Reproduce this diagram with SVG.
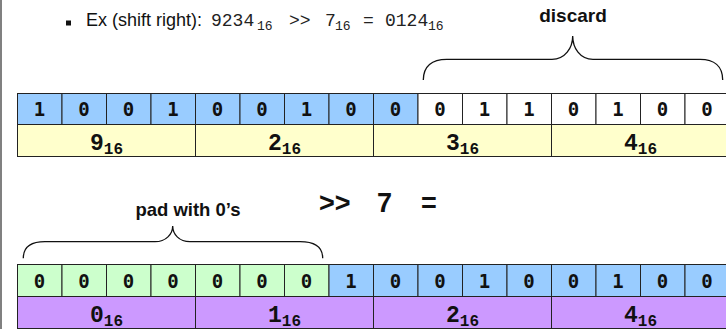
<svg xmlns="http://www.w3.org/2000/svg" width="726" height="329" viewBox="0 0 726 329">
  <style>
    .cell { stroke: #222; stroke-width: 1; }
    .blue { fill: #99CCFF; }
    .white { fill: #FFFFFF; }
    .green { fill: #CCFFCC; }
    .yellow { fill: #FFFFCC; }
    .purple { fill: #CC99FF; }
    .bit { font-family: "DejaVu Sans Mono", "Liberation Mono", monospace; font-weight: bold; font-size: 19px; fill: #111; text-anchor: middle; }
    .hex { font-family: "Liberation Mono", "Courier New", monospace; font-weight: bold; font-size: 23px; fill: #111; text-anchor: middle; }
    .sub { font-size: 16px; }
    .label { font-family: "Liberation Sans", Arial, sans-serif; font-weight: bold; fill: #111; }
    .brace { fill: none; stroke: #111; stroke-width: 1.3; }
    .cap { font-family: "Liberation Sans", Arial, sans-serif; font-size: 18px; fill: #111; }
    .mono { font-family: "Liberation Mono", "Courier New", monospace; font-size: 18px; fill: #222; }
    .msub { font-family: "Liberation Mono", "Courier New", monospace; font-size: 13px; fill: #222; }
  </style>

  <!-- page edge -->
  <rect x="0" y="0" width="2" height="329" fill="#808080"/>

  <!-- caption line -->
  <g id="caption">
    <rect x="66" y="20.5" width="5" height="5" fill="#111"/>
    <text class="cap" x="86" y="26">Ex (shift right):</text>
    <text class="mono" x="211" y="26">9234</text>
    <text class="msub" x="257" y="30">16</text>
    <text class="mono" x="289" y="26">&gt;&gt;</text>
    <text class="mono" x="325" y="26">7</text>
    <text class="msub" x="335" y="30">16</text>
    <text class="mono" x="363" y="26">=</text>
    <text class="mono" x="385" y="26">0124</text>
    <text class="msub" x="428" y="30">16</text>
  </g>

  <g id="discard-label">
    <text class="label" x="573" y="22" font-size="19" text-anchor="middle">discard</text>
  </g>

  <g id="shift-label">
    <text class="label" x="319" y="212" font-size="27">&gt;&gt;</text>
    <text class="label" x="377" y="212" font-size="27">7</text>
    <text class="label" x="421" y="212" font-size="27">=</text>
  </g>

  <g id="pad-label">
    <text class="label" x="188" y="216" font-size="18.5" text-anchor="middle">pad with 0’s</text>
  </g>

  <!-- braces -->
  <g id="connectors">
    <path class="brace" d="M423.3,80 C423.3,66 432,59.3 446.7,59.3 L552,59.3 C565,59.3 572.7,48 572.7,36 C572.7,48 580,59.3 593,59.3 L700,59.3 C714,59.3 722.7,66 722.7,80"/>
    <path class="brace" d="M23.3,258.3 C23.3,247 31,241.7 45,241.7 L155,241.7 C166,241.7 172.7,234 172.7,226 C172.7,234 179,241.7 190,241.7 L300,241.7 C314,241.7 322.7,247 322.7,258.3"/>
  </g>

  <!-- original value: bits -->
  <g id="top-bits">
    <rect class="cell blue" x="17.5" y="93.5" width="44.5" height="31"/>
    <rect class="cell blue" x="62" y="93.5" width="44.5" height="31"/>
    <rect class="cell blue" x="106.5" y="93.5" width="44.5" height="31"/>
    <rect class="cell blue" x="151" y="93.5" width="44.5" height="31"/>
    <rect class="cell blue" x="195.5" y="93.5" width="44.5" height="31"/>
    <rect class="cell blue" x="240" y="93.5" width="44.5" height="31"/>
    <rect class="cell blue" x="284.5" y="93.5" width="44.5" height="31"/>
    <rect class="cell blue" x="329" y="93.5" width="44.5" height="31"/>
    <rect class="cell blue" x="373.5" y="93.5" width="44.5" height="31"/>
    <rect class="cell white" x="418" y="93.5" width="44.5" height="31"/>
    <rect class="cell white" x="462.5" y="93.5" width="44.5" height="31"/>
    <rect class="cell white" x="507" y="93.5" width="44.5" height="31"/>
    <rect class="cell white" x="551.5" y="93.5" width="44.5" height="31"/>
    <rect class="cell white" x="596" y="93.5" width="44.5" height="31"/>
    <rect class="cell white" x="640.5" y="93.5" width="44.5" height="31"/>
    <rect class="cell white" x="685" y="93.5" width="44.5" height="31"/>
    <text class="bit" x="39.5" y="116">1</text>
    <text class="bit" x="84" y="116">0</text>
    <text class="bit" x="128.5" y="116">0</text>
    <text class="bit" x="173" y="116">1</text>
    <text class="bit" x="217.5" y="116">0</text>
    <text class="bit" x="262" y="116">0</text>
    <text class="bit" x="306.5" y="116">1</text>
    <text class="bit" x="351" y="116">0</text>
    <text class="bit" x="395.5" y="116">0</text>
    <text class="bit" x="440" y="116">0</text>
    <text class="bit" x="484.5" y="116">1</text>
    <text class="bit" x="529" y="116">1</text>
    <text class="bit" x="573.5" y="116">0</text>
    <text class="bit" x="618" y="116">1</text>
    <text class="bit" x="662.5" y="116">0</text>
    <text class="bit" x="707" y="116">0</text>
  </g>

  <!-- original value: hex digits -->
  <g id="top-hex">
    <rect class="cell yellow" x="17.5" y="124.5" width="178" height="32"/>
    <rect class="cell yellow" x="195.5" y="124.5" width="178" height="32"/>
    <rect class="cell yellow" x="373.5" y="124.5" width="178" height="32"/>
    <rect class="cell yellow" x="551.5" y="124.5" width="178" height="32"/>
    <text class="hex" x="106.5" y="150">9<tspan class="sub" dy="4">16</tspan></text>
    <text class="hex" x="284.5" y="150">2<tspan class="sub" dy="4">16</tspan></text>
    <text class="hex" x="462.5" y="150">3<tspan class="sub" dy="4">16</tspan></text>
    <text class="hex" x="640.5" y="150">4<tspan class="sub" dy="4">16</tspan></text>
  </g>

  <!-- shifted value: bits -->
  <g id="bottom-bits">
    <rect class="cell green" x="17.5" y="264.5" width="44.5" height="32"/>
    <rect class="cell green" x="62" y="264.5" width="44.5" height="32"/>
    <rect class="cell green" x="106.5" y="264.5" width="44.5" height="32"/>
    <rect class="cell green" x="151" y="264.5" width="44.5" height="32"/>
    <rect class="cell green" x="195.5" y="264.5" width="44.5" height="32"/>
    <rect class="cell green" x="240" y="264.5" width="44.5" height="32"/>
    <rect class="cell green" x="284.5" y="264.5" width="44.5" height="32"/>
    <rect class="cell blue" x="329" y="264.5" width="44.5" height="32"/>
    <rect class="cell blue" x="373.5" y="264.5" width="44.5" height="32"/>
    <rect class="cell blue" x="418" y="264.5" width="44.5" height="32"/>
    <rect class="cell blue" x="462.5" y="264.5" width="44.5" height="32"/>
    <rect class="cell blue" x="507" y="264.5" width="44.5" height="32"/>
    <rect class="cell blue" x="551.5" y="264.5" width="44.5" height="32"/>
    <rect class="cell blue" x="596" y="264.5" width="44.5" height="32"/>
    <rect class="cell blue" x="640.5" y="264.5" width="44.5" height="32"/>
    <rect class="cell blue" x="685" y="264.5" width="44.5" height="32"/>
    <text class="bit" x="39.5" y="287.5">0</text>
    <text class="bit" x="84" y="287.5">0</text>
    <text class="bit" x="128.5" y="287.5">0</text>
    <text class="bit" x="173" y="287.5">0</text>
    <text class="bit" x="217.5" y="287.5">0</text>
    <text class="bit" x="262" y="287.5">0</text>
    <text class="bit" x="306.5" y="287.5">0</text>
    <text class="bit" x="351" y="287.5">1</text>
    <text class="bit" x="395.5" y="287.5">0</text>
    <text class="bit" x="440" y="287.5">0</text>
    <text class="bit" x="484.5" y="287.5">1</text>
    <text class="bit" x="529" y="287.5">0</text>
    <text class="bit" x="573.5" y="287.5">0</text>
    <text class="bit" x="618" y="287.5">1</text>
    <text class="bit" x="662.5" y="287.5">0</text>
    <text class="bit" x="707" y="287.5">0</text>
  </g>

  <!-- shifted value: hex digits -->
  <g id="bottom-hex">
    <rect class="cell purple" x="17.5" y="296.5" width="178" height="32"/>
    <rect class="cell purple" x="195.5" y="296.5" width="178" height="32"/>
    <rect class="cell purple" x="373.5" y="296.5" width="178" height="32"/>
    <rect class="cell purple" x="551.5" y="296.5" width="178" height="32"/>
    <text class="hex" x="106.5" y="321.5">0<tspan class="sub" dy="4">16</tspan></text>
    <text class="hex" x="284.5" y="321.5">1<tspan class="sub" dy="4">16</tspan></text>
    <text class="hex" x="462.5" y="321.5">2<tspan class="sub" dy="4">16</tspan></text>
    <text class="hex" x="640.5" y="321.5">4<tspan class="sub" dy="4">16</tspan></text>
  </g>
</svg>
